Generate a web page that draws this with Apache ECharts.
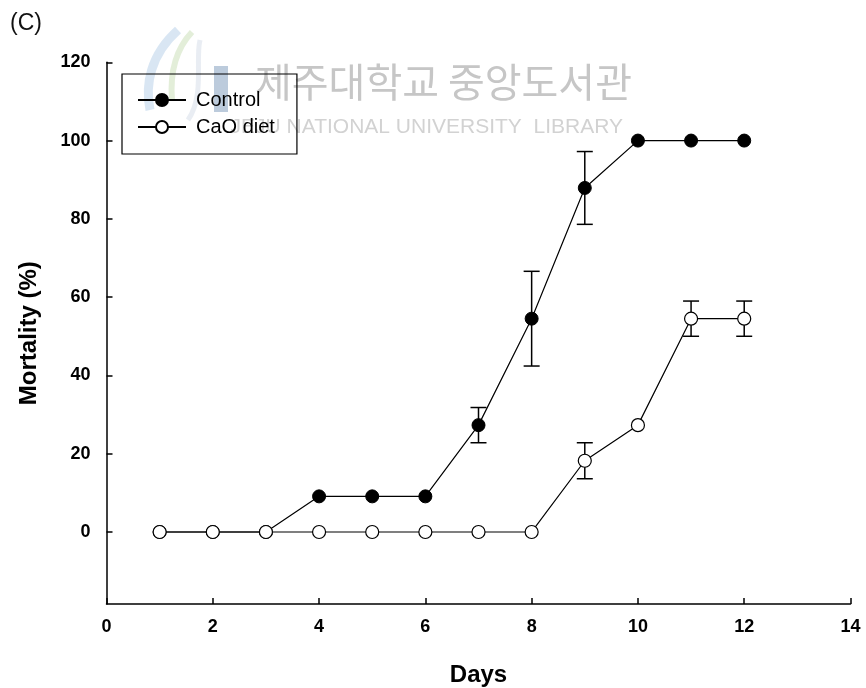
<!DOCTYPE html>
<html>
<head>
<meta charset="utf-8">
<script src="https://cdn.jsdelivr.net/npm/echarts@6/dist/echarts.min.js"></script>
<style>
  html, body { margin: 0; padding: 0; background: #fff; }
  #chart { width: 866px; height: 688px; }
</style>
</head>
<body>
<div id="chart"></div>
<script>
// Cumulative mortality (%) by day, mean ± error
const days = [1, 2, 3, 4, 5, 6, 7, 8, 9, 10, 11, 12];
const controlMortality = [0, 0, 0, 9.1, 9.1, 9.1, 27.3, 54.5, 87.9, 100, 100, 100];
const controlError = [0, 0, 0, 0, 0, 0, 4.5, 12.1, 9.3, 0, 0, 0];
const caoMortality = [0, 0, 0, 0, 0, 0, 0, 0, 18.2, 27.3, 54.5, 54.5];
const caoError = [0, 0, 0, 0, 0, 0, 0, 0, 4.6, 0, 4.5, 4.5];
const yTickValues = [0, 20, 40, 60, 80, 100, 120];
const seriesNames = ['Control', 'CaO diet'];

const FONT = '"Liberation Sans", Arial, sans-serif';

function pairs(xs, ys) { return xs.map((x, i) => [x, ys[i]]); }
function errTriples(xs, ys, es) {
  return xs.map((x, i) => [x, ys[i], es[i]]).filter(d => d[2] > 0);
}

function errorBarRenderer(params, api) {
  const x = api.value(0), y = api.value(1), e = api.value(2);
  const top = api.coord([x, y + e]);
  const bot = api.coord([x, y - e]);
  const hw = 8;
  const style = { stroke: '#000', lineWidth: 1.5 };
  return {
    type: 'group',
    children: [
      { type: 'line', shape: { x1: top[0], y1: top[1], x2: bot[0], y2: bot[1] }, style },
      { type: 'line', shape: { x1: top[0] - hw, y1: top[1], x2: top[0] + hw, y2: top[1] }, style },
      { type: 'line', shape: { x1: bot[0] - hw, y1: bot[1], x2: bot[0] + hw, y2: bot[1] }, style }
    ]
  };
}

const chart = echarts.init(document.getElementById('chart'), null, { renderer: 'canvas' });

chart.setOption({
  backgroundColor: '#fff',
  animation: false,
  textStyle: { fontFamily: FONT },
  grid: { left: 106.5, right: 15.5, top: 62.3, bottom: 84, containLabel: false, outerBoundsMode: 'none' },
  graphic: [
    // library watermark behind the plot
    { type: 'bezierCurve', z: 0, silent: true,
      shape: { x1: 178, y1: 30, x2: 150, y2: 110, cpx1: 150, cpy1: 55, cpx2: 145, cpy2: 85 },
      style: { stroke: '#c9dbee', lineWidth: 9, fill: null, opacity: 0.7 } },
    { type: 'bezierCurve', z: 0, silent: true,
      shape: { x1: 192, y1: 32, x2: 172, y2: 100, cpx1: 175, cpy1: 50, cpx2: 170, cpy2: 75 },
      style: { stroke: '#d7e7c9', lineWidth: 6, fill: null, opacity: 0.7 } },
    { type: 'bezierCurve', z: 0, silent: true,
      shape: { x1: 200, y1: 40, x2: 188, y2: 120, cpx1: 195, cpy1: 60, cpx2: 205, cpy2: 95 },
      style: { stroke: '#e0e6ee', lineWidth: 5, fill: null, opacity: 0.7 } },
    { type: 'rect', z: 0, silent: true,
      shape: { x: 214, y: 66, width: 14, height: 46 },
      style: { fill: '#bccbdc' } },
    { type: 'text', z: 0, silent: true, left: 255, top: 62,
      style: { text: '제주대학교 중앙도서관', font: '40px "Noto Sans CJK KR", sans-serif', fill: '#c6c6c6' } },
    { type: 'text', z: 0, silent: true, right: 243, top: 117,
      style: { text: 'JEJU NATIONAL UNIVERSITY  LIBRARY', font: '21px "Liberation Sans", Arial, sans-serif', fill: '#d2d2d2' } },
    // panel letter
    { type: 'text', left: 10, top: 12,
      style: { text: '(C)', font: '23px "Liberation Sans", Arial, sans-serif', fill: '#111' } }
  ],
  legend: {
    orient: 'vertical',
    left: 122,
    top: 74,
    data: seriesNames,
    itemWidth: 48,
    itemHeight: 15,
    itemGap: 7,
    padding: [16, 22, 17, 15],
    borderColor: '#000',
    borderWidth: 1.2,
    textStyle: { fontFamily: FONT, fontSize: 20, color: '#000', padding: [0, 0, 0, 5] }
  },
  xAxis: {
    type: 'value',
    min: 0,
    max: 14,
    interval: 2,
    name: 'Days',
    nameLocation: 'middle',
    nameGap: 59,
    nameTextStyle: { fontFamily: FONT, fontSize: 24, fontWeight: 'bold', color: '#000' },
    axisLine: { onZero: false, lineStyle: { color: '#000', width: 1.5 } },
    axisTick: { inside: true, length: 6, lineStyle: { color: '#000', width: 1.5 } },
    axisLabel: { fontFamily: FONT, fontSize: 18, fontWeight: 'bold', color: '#000', margin: 14 },
    splitLine: { show: false }
  },
  yAxis: {
    type: 'value',
    min: -18.4,
    max: 120,
    name: 'Mortality (%)',
    nameLocation: 'middle',
    nameRotate: 90,
    nameGap: 65,
    nameTextStyle: { fontFamily: FONT, fontSize: 24, fontWeight: 'bold', color: '#000' },
    axisLine: { onZero: false, lineStyle: { color: '#000', width: 1.5 } },
    axisTick: { inside: true, length: 6, customValues: yTickValues, lineStyle: { color: '#000', width: 1.5 } },
    axisLabel: { fontFamily: FONT, fontSize: 18, fontWeight: 'bold', color: '#000', margin: 16, customValues: yTickValues },
    splitLine: { show: false }
  },
  series: [
    {
      type: 'custom',
      name: 'controlErr',
      renderItem: errorBarRenderer,
      data: errTriples(days, controlMortality, controlError),
      encode: { x: 0, y: 1 },
      z: 1,
      silent: true
    },
    {
      type: 'custom',
      name: 'caoErr',
      renderItem: errorBarRenderer,
      data: errTriples(days, caoMortality, caoError),
      encode: { x: 0, y: 1 },
      z: 1,
      silent: true
    },
    {
      type: 'line',
      name: seriesNames[0],
      data: pairs(days, controlMortality),
      symbol: 'circle',
      symbolSize: 13,
      lineStyle: { color: '#000', width: 1.2 },
      itemStyle: { color: '#000', borderColor: '#000', borderWidth: 1 },
      z: 3
    },
    {
      type: 'line',
      name: seriesNames[1],
      data: pairs(days, caoMortality),
      symbol: 'circle',
      symbolSize: 13,
      lineStyle: { color: '#000', width: 1.2 },
      itemStyle: { color: '#fff', borderColor: '#000', borderWidth: 1.2 },
      z: 4
    }
  ]
});
</script>
</body>
</html>
